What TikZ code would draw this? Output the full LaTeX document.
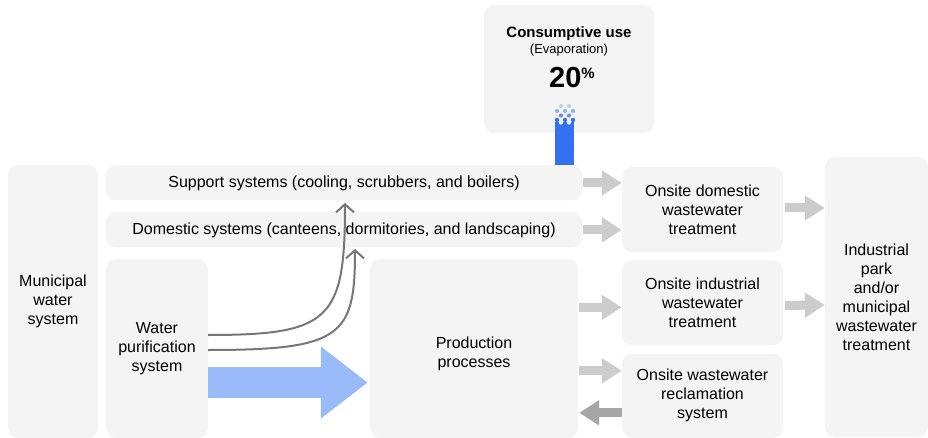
\documentclass[tikz,border=0pt]{standalone}
\usepackage{fontspec}
\setmainfont{Liberation Sans}
\definecolor{BoxGray}{HTML}{F4F4F4}
\definecolor{FlowGray}{HTML}{CCCCCC}
\definecolor{BackGray}{HTML}{A6A6A6}
\definecolor{CurveGray}{HTML}{777777}
\definecolor{EvapBlue}{HTML}{3371F2}
\definecolor{FeedBlue}{HTML}{99BBF9}
\usetikzlibrary{arrows.meta}
\usetikzlibrary{positioning}

\begin{document}
\begin{tikzpicture}[x=1pt, y=1pt,
    font=\fontsize{16}{19}\selectfont,
    box/.style={shape=rectangle, rounded corners=10pt, fill=BoxGray,
      align=center, inner sep=0pt},
    flow/.style={draw=FlowGray, line width=9pt,
      -{Triangle[length=20pt,width=24pt]}},
    backflow/.style={flow, draw=BackGray},
    feed/.style={draw=FeedBlue, line width=31pt,
      -{Triangle[length=47pt,width=69pt]}},
    branch/.style={draw=CurveGray, line width=2pt,
      -{Straight Barb[length=8pt,width=18pt]}}]
    \path [use as bounding box] (0,0) rectangle (928,-438);

    \node[name=cons, box,
      minimum width=170pt, minimum height=128pt] at (569,-69) {};
    \node[name=cusetext, anchor=base,
      font=\fontsize{15}{18}\selectfont\bfseries] at (569,-38) {Consumptive use};
    \node[name=evaptext, anchor=base,
      font=\fontsize{13}{16}\selectfont] at (569,-54) {(Evaporation)};
    \node[name=pcttext, anchor=base,
      font=\fontsize{29}{32}\selectfont\bfseries] at (572,-88)
      {20\raisebox{9pt}{\fontsize{15}{15}\selectfont\%}};

    \node[name=munic, box,
      minimum width=90pt, minimum height=273pt] at (53,-301.5)
      {Municipal\\water\\system};

    \node[name=support, box,
      minimum width=476pt, minimum height=35pt] at (344,-183)
      {Support systems (cooling, scrubbers, and boilers)};

    \node[name=domestic, box,
      minimum width=476pt, minimum height=35pt,
      below=11.5pt of support] {Domestic systems (canteens, dormitories, and landscaping)};

    \node[name=purif, box,
      minimum width=102pt, minimum height=179pt] at (157,-348.5)
      {Water\\purification\\system};

    \node[name=prod, box,
      minimum width=208pt, minimum height=179pt] at (474,-348.5)
      {\rule{0pt}{22pt}Production\\processes};

    \node[name=onsdom, box,
      minimum width=161pt, minimum height=85pt] at (702.5,-209.5)
      {Onsite domestic\\wastewater\\treatment};

    \node[name=onsind, box,
      minimum width=161pt, minimum height=85pt,
      below=8pt of onsdom] {Onsite industrial\\wastewater\\treatment};

    \node[name=onsrec, box,
      minimum width=161pt, minimum height=84pt,
      below=8pt of onsind] {Onsite wastewater\\reclamation\\system};

    \node[name=park, box,
      minimum width=103pt, minimum height=280pt] at (876.5,-297)
      {Industrial\\park\\and/or\\municipal\\wastewater\\treatment};

    % evaporation column
    \fill[EvapBlue] (555,-122) rectangle (574,-165);
    \foreach \x in {561,569} \fill[BoxGray] (\x,-122.5) circle (2.2);
    \foreach \x in {557,565,573} \fill[EvapBlue] (\x,-120) circle (2.2);
    \foreach \x in {561,569} \fill[EvapBlue, opacity=.75] (\x,-115.5) circle (2.1);
    \foreach \x in {557,565,573} \fill[EvapBlue, opacity=.5] (\x,-111) circle (2.1);
    \foreach \x in {561,569} \fill[EvapBlue, opacity=.3] (\x,-106) circle (2);

    \path[flow] ([xshift=1pt]support.east) -- (onsdom.west |- support.east);
    \path[flow] ([xshift=1pt]domestic.east) -- (onsdom.west |- domestic.east);
    \path[flow] ([xshift=1pt,yshift=-4.5pt]prod.east |- onsind.west)
      -- ([yshift=-4.5pt]onsind.west);
    \path[flow] ([xshift=1pt,yshift=25pt]prod.east |- onsrec.west)
      -- ([yshift=25pt]onsrec.west);
    \path[backflow] ([yshift=-17pt]onsrec.west)
      -- ([xshift=1pt,yshift=-17pt]prod.east |- onsrec.west);
    \path[flow] ([xshift=2pt,yshift=1.5pt]onsdom.east) -- (park.west |- 0,-208);
    \path[flow] ([xshift=2pt,yshift=-2.5pt]onsind.east) -- (park.west |- 0,-305);

    \path[feed] (purif.east |- 0,-382.5) -- ([xshift=-2pt]prod.west |- 0,-382.5);

    \draw[branch] (purif.east |- 0,-335) .. controls (330,-335) and (345,-320) .. (345,-203);
    \draw[branch] (purif.east |- 0,-350) .. controls (342,-350) and (355,-336) .. (355,-249);
  \end{tikzpicture}
\end{document}
